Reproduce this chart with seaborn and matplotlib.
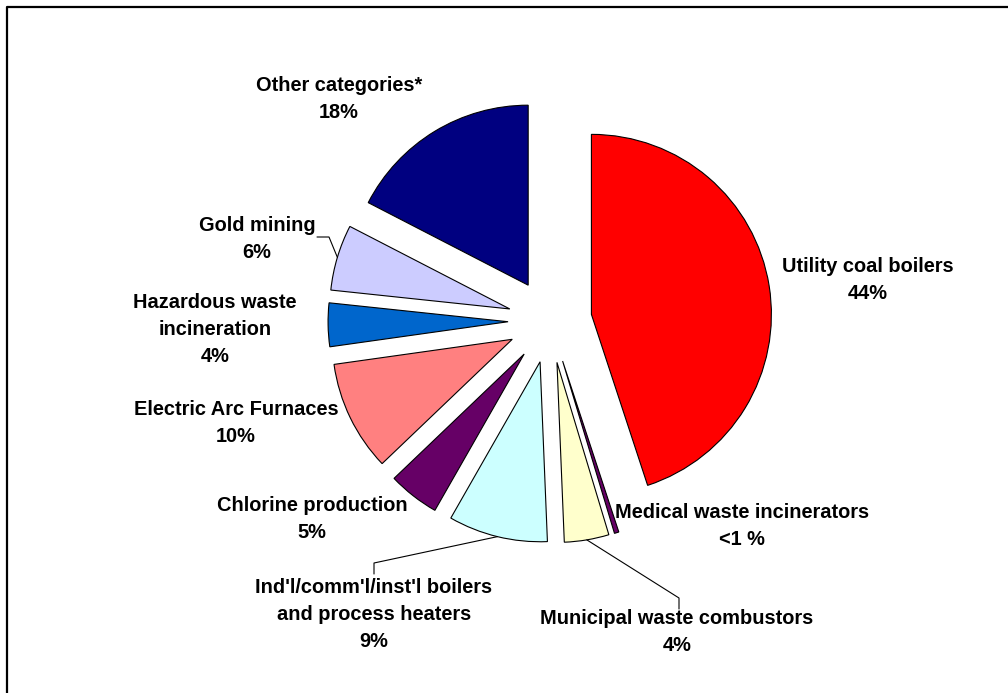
import numpy as np
import seaborn as sns
import matplotlib.pyplot as plt
from matplotlib.lines import Line2D

# slice shares as drawn (clockwise from 12 o'clock) and their printed labels
sources = ["Utility coal boilers", "Medical waste incinerators", "Municipal waste combustors",
           "Ind'l/comm'l/inst'l boilers\nand process heaters", "Chlorine production",
           "Electric Arc Furnaces", "Hazardous waste\nincineration", "Gold mining",
           "Other categories*"]
shares = [44.9, 0.4, 4.0, 8.9, 4.6, 9.9, 3.9, 5.9, 17.4]
pct_text = ["44%", "<1 %", "4%", "9%", "5%", "10%", "4%", "6%", "18%"]
colors = ["#FF0000", "#660066", "#FFFFCC", "#CCFFFF", "#660066",
          "#FF8080", "#0066CC", "#CCCCFF", "#000080"]

# layout in picture pixels: label centre x, first line centre y
label_pos = [(868, 265), (742, 511), (677, 617), (374, 586), (312, 504),
             (236, 408), (215, 301), (257, 224), (339, 84)]
# leader lines: slice index -> points from label to elbow (pixels)
leaders = {3: [(374, 574), (374, 563)],
           2: [(679, 609), (679, 598)],
           7: [(317, 237), (329, 237)]}

W, H = 1008, 693
CX, CY, R = 550, 321, 180   # pie centre and radius in pixels
LINE_STEP = 27

sns.set_theme(style="white")
plt.rcParams['font.family'] = ['Liberation Sans', 'DejaVu Sans']

fig = plt.figure(figsize=(W / 100, H / 100), dpi=100)
ax = fig.add_axes([0, 0, 1, 1])

wedges, _ = ax.pie(shares, colors=colors, startangle=90, counterclock=False,
                   explode=[0.233] * len(shares), radius=1,
                   wedgeprops=dict(edgecolor="black", linewidth=0.8))
ax.set_xlim(-CX / R, (W - CX) / R)
ax.set_ylim(-(H - CY) / R, CY / R)
ax.set_aspect("equal")
ax.axis("off")


def to_data(px, py):
    return (px - CX) / R, (CY - py) / R


# labels, one text per line so the spacing matches
for i, (name, pct) in enumerate(zip(sources, pct_text)):
    lines = name.split("\n") + [pct]
    x0, y0 = label_pos[i]
    for k, line in enumerate(lines):
        x, y = to_data(x0, y0 + k * LINE_STEP + 7)
        ax.text(x, y, line, ha="center", va="baseline", fontsize=14.4,
                fontweight="bold", color="black")

# leader lines ending at the middle of the slice arc
for i, pts in leaders.items():
    w = wedges[i]
    mid = np.deg2rad((w.theta1 + w.theta2) / 2)
    end = (w.center[0] + w.r * np.cos(mid), w.center[1] + w.r * np.sin(mid))
    xy = [to_data(*p) for p in pts] + [end]
    ax.plot([p[0] for p in xy], [p[1] for p in xy], color="black", lw=0.8)

# frame along the top and left of the picture
fig.add_artist(Line2D([7 / W, 7 / W, 1], [0, 1 - 7 / H, 1 - 7 / H],
                      transform=fig.transFigure, color="black", lw=1.6))

fig.savefig("out.png", dpi=100, facecolor="white")
